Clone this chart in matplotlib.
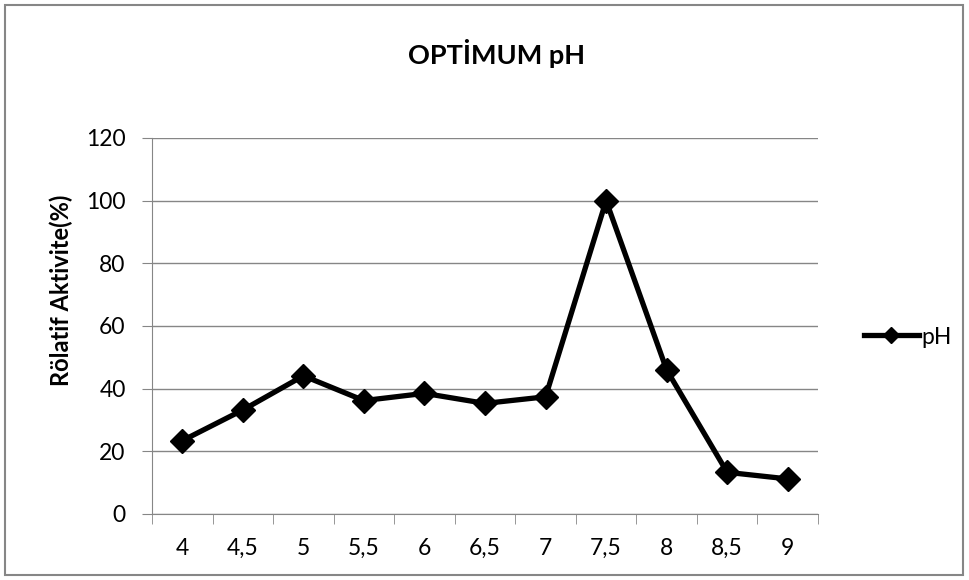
import matplotlib.pyplot as plt
import numpy as np
from matplotlib.patches import Rectangle

# data
ph_labels = ["4", "4,5", "5", "5,5", "6", "6,5", "7", "7,5", "8", "8,5", "9"]
activity = [23.4, 33.2, 44.1, 36.2, 38.5, 35.3, 37.4, 100, 46, 13.3, 11.2]
y_ticks = [0, 20, 40, 60, 80, 100, 120]

plt.rcParams['font.family'] = ['Lato', 'DejaVu Sans']
grey = '#868686'

fig = plt.figure(figsize=(9.69, 5.8), dpi=100)
ax = fig.add_axes([152 / 969, 1 - 514 / 580, 666 / 969, 376 / 580])

x = np.arange(len(ph_labels))
line, = ax.plot(x, activity, color='black', lw=3.8, marker='D', ms=12, label='pH')

ax.set_xlim(-0.5, len(ph_labels) - 0.5)
ax.set_ylim(0, 120)
ax.set_yticks(y_ticks)
ax.set_xticks(x)
ax.set_xticklabels(ph_labels)
ax.set_xticks(np.arange(len(ph_labels) + 1) - 0.5, minor=True)
ax.tick_params(axis='x', which='major', length=0, labelsize=16.5, pad=17)
ax.tick_params(axis='x', which='minor', length=7, color=grey, direction='out')
ax.tick_params(axis='y', length=7, color=grey, labelsize=16.5, pad=12)
ax.grid(axis='y', color=grey, lw=1)
ax.set_axisbelow(True)
for s in ['top', 'right']:
    ax.spines[s].set_visible(False)
for s in ['left', 'bottom']:
    ax.spines[s].set_color(grey)

ax.set_ylabel('Rölatif Aktivite(%)', fontsize=17, fontweight='bold')
ax.yaxis.set_label_coords(73 / 969, 0.5, transform=fig.transFigure)
fig.text(497 / 969, 1 - 53 / 580, 'OPTİMUM pH', ha='center', va='center',
         fontsize=19.5, fontweight='bold')

ax.legend(handles=[line], loc='center left', bbox_to_anchor=(843 / 969, 1 - 337 / 580),
          bbox_transform=fig.transFigure, frameon=False, fontsize=16.5,
          handlelength=2.4, handletextpad=0.1, markerscale=0.7)

fig.patches.append(Rectangle((5 / 969, 5 / 580), 958 / 969, 570 / 580, fill=False,
                             edgecolor=grey, lw=1.5, transform=fig.transFigure))

fig.savefig('out.png', dpi=100)
